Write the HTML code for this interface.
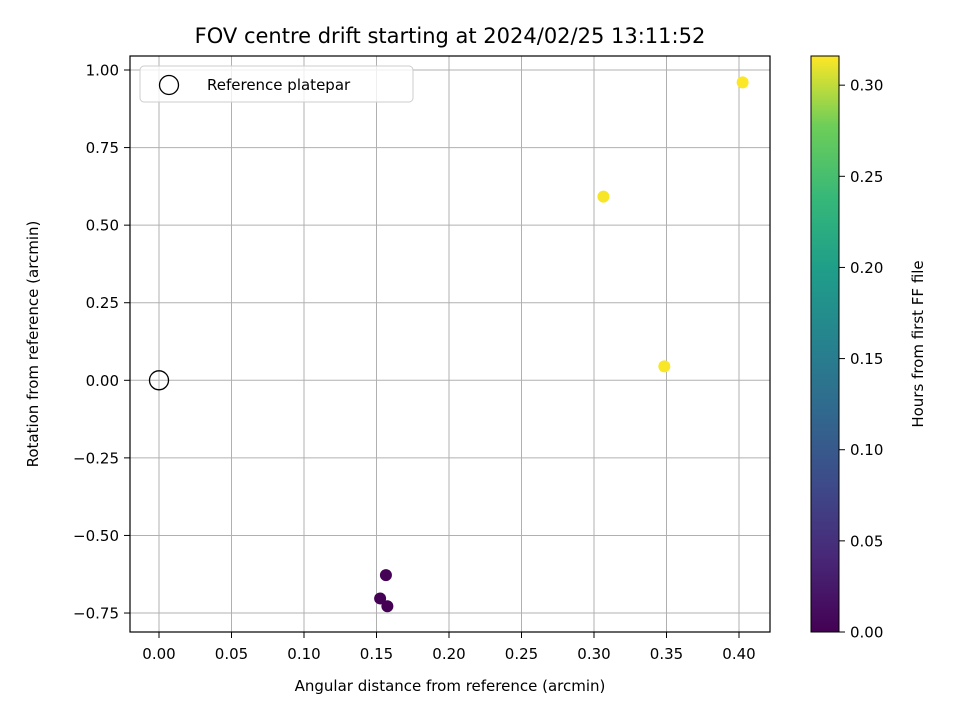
<!DOCTYPE html>
<html><head><meta charset="utf-8"><style>
body{margin:0;background:#fff}
svg text{font-family:"DejaVu Sans","Liberation Sans",sans-serif;fill:#000}
</style></head><body>
<svg id="chart" width="960" height="720" xmlns="http://www.w3.org/2000/svg">
<defs><linearGradient id="vir" x1="0" y1="1" x2="0" y2="0">
<stop offset="0" stop-color="#440154"/><stop offset="0.13" stop-color="#482878"/><stop offset="0.25" stop-color="#3e4989"/><stop offset="0.38" stop-color="#31688e"/><stop offset="0.5" stop-color="#26828e"/><stop offset="0.63" stop-color="#1f9e89"/><stop offset="0.75" stop-color="#35b779"/><stop offset="0.88" stop-color="#6ece58"/><stop offset="1" stop-color="#fde725"/>
</linearGradient></defs>
<text x="450" y="43" font-size="21" text-anchor="middle">FOV centre drift starting at 2024/02/25 13:11:52</text>
<g id="grid"></g><g id="ticks"></g><g id="pts"></g>
<rect x="130" y="56" width="640" height="576" fill="none" stroke="#000" stroke-width="1.2"/>
<g>
<rect x="140" y="66" width="273" height="36" rx="4" fill="#fff" stroke="#ccc" fill-opacity="0.8"/>
<circle cx="169" cy="85" r="9.5" fill="none" stroke="#000" stroke-width="1.3"/>
<text x="207" y="90" font-size="15">Reference platepar</text>
</g>
<text x="450" y="691" font-size="15" text-anchor="middle">Angular distance from reference (arcmin)</text>
<text transform="translate(38,344) rotate(-90)" font-size="15" text-anchor="middle">Rotation from reference (arcmin)</text>
<rect x="811" y="56" width="28" height="576" fill="url(#vir)" stroke="#000" stroke-width="1"/>
<g id="cbt"></g>
<text transform="translate(923,344) rotate(-90)" font-size="15" text-anchor="middle">Hours from first FF file</text>
</svg>
<script>
const xVals=[0.4025,0.3065,0.3485,0.1565,0.1525,0.1575];
const yVals=[0.960,0.592,0.045,-0.628,-0.703,-0.728];
const hours=[0.315,0.313,0.314,0.002,0.001,0.0];
const xTicks=[0,0.05,0.1,0.15,0.2,0.25,0.3,0.35,0.4];
const yTicks=[1,0.75,0.5,0.25,0,-0.25,-0.5,-0.75];
const cTicks=[0,0.05,0.1,0.15,0.2,0.25,0.3];
const cMax=0.316;
const NS="http://www.w3.org/2000/svg";
const X=v=>159+v*1450, Y=v=>380.3-v*310.3, C=v=>632-v/cMax*576;
function mk(tag,attrs,parent){const e=document.createElementNS(NS,tag);for(const k in attrs)e.setAttribute(k,attrs[k]);document.getElementById(parent).appendChild(e);return e;}
const fmt=v=>(v<0?"\u2212":"")+Math.abs(v).toFixed(2);
xTicks.forEach(t=>{
const g=mk("line",{x1:X(t),x2:X(t),y1:56,y2:632,stroke:"#b0b0b0","stroke-width":1},"grid");


mk("line",{x1:X(t),x2:X(t),y1:632,y2:638,stroke:"#000"},"ticks");
const tx=mk("text",{x:X(t),y:659,"font-size":15,"text-anchor":"middle"},"ticks");tx.textContent=fmt(t);


});
yTicks.forEach(t=>{
const g=mk("line",{x1:130,x2:770,y1:Y(t),y2:Y(t),stroke:"#b0b0b0","stroke-width":1},"grid");


mk("line",{x1:124,x2:130,y1:Y(t),y2:Y(t),stroke:"#000"},"ticks");
const tx=mk("text",{x:119,y:Y(t)+5.5,"font-size":15,"text-anchor":"end"},"ticks");tx.textContent=fmt(t);


});
cTicks.forEach(t=>{
mk("line",{x1:839,x2:845,y1:C(t),y2:C(t),stroke:"#000"},"cbt");
const tx=mk("text",{x:850,y:C(t)+5.5,"font-size":15},"cbt");tx.textContent=t.toFixed(2);


});
const stops=[[0,[68,1,84]],[0.25,[59,82,139]],[0.5,[33,145,140]],[0.75,[94,201,98]],[1,[253,231,37]]];
function vir(f){f=Math.max(0,Math.min(1,f));for(let i=1;i<stops.length;i++){if(f<=stops[i][0]){const a=stops[i-1],b=stops[i],u=(f-a[0])/(b[0]-a[0]);return "rgb("+a[1].map((c,j)=>Math.round(c+(b[1][j]-c)*u)).join(",")+")";}}return "rgb(253,231,37)";}
const ref=mk("circle",{cx:X(0),cy:Y(0),r:9.5,fill:"none",stroke:"#000","stroke-width":1.3},"pts");


xVals.forEach((v,i)=>{
const c=mk("circle",{cx:X(v),cy:Y(yVals[i]),r:6,fill:vir(hours[i]/cMax)},"pts");


});
</script>
</body></html>
